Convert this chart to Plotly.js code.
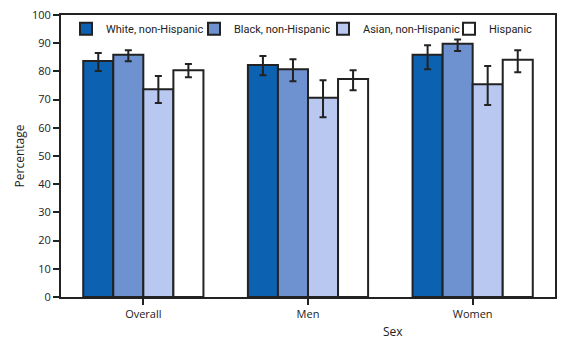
<!DOCTYPE html>
<html>
<head>
<meta charset="utf-8">
<script src="https://cdn.plot.ly/plotly-3.0.1.min.js"></script>
<style>body{margin:0;padding:0;background:#fff;}#chart{width:568px;height:347px;}</style>
</head>
<body>
<div id="chart"></div>
<script>
const categories = ["Overall", "Men", "Women"];
const seriesNames = ["White, non-Hispanic", "Black, non-Hispanic", "Asian, non-Hispanic", "Hispanic"];
const whiteVals = [83.7, 82.3, 85.9];
const whiteHigh = [86.5, 85.5, 89.3];
const whiteLow = [80.1, 78.6, 80.8];
const blackVals = [85.9, 80.8, 89.8];
const blackHigh = [87.5, 84.3, 91.3];
const blackLow = [83.6, 76.5, 87.2];
const asianVals = [73.7, 70.7, 75.4];
const asianHigh = [78.4, 76.9, 81.9];
const asianLow = [68.8, 63.7, 68.1];
const hispVals = [80.4, 77.3, 84.1];
const hispHigh = [82.6, 80.4, 87.5];
const hispLow = [77.9, 73.3, 79.7];
const yTicks = [0, 10, 20, 30, 40, 50, 60, 70, 80, 90, 100];

const colors = ["#0c62b0", "#6e91d0", "#b8c8f0", "#ffffff"];
const legendIds = ["legend", "legend2", "legend3", "legend4"];
const series = [
  [whiteVals, whiteHigh, whiteLow],
  [blackVals, blackHigh, blackLow],
  [asianVals, asianHigh, asianLow],
  [hispVals, hispHigh, hispLow]
];
const traces = series.map((s, i) => ({
  type: "bar",
  name: seriesNames[i],
  legend: legendIds[i],
  x: categories,
  y: s[0],
  marker: {color: colors[i], line: {color: "#222222", width: 2}},
  error_y: {
    type: "data", symmetric: false,
    array: s[1].map((v, k) => v - s[0][k]),
    arrayminus: s[0].map((v, k) => v - s[2][k]),
    color: "#222222", thickness: 2, width: 3.5
  },
  hoverinfo: "none"
}));

const plotL = 61, plotW = 494;
const symLeft = [80, 208, 337, 463];
const legendBase = {orientation: "h", xanchor: "left", y: 1.003, yanchor: "top",
  font: {family: "Roboto, Open Sans, sans-serif", size: 11, color: "#222222"}, bgcolor: "rgba(0,0,0,0)"};

const layout = {
  width: 568, height: 347,
  margin: {l: 61, r: 13, t: 15, b: 50},
  paper_bgcolor: "#ffffff", plot_bgcolor: "#ffffff",
  font: {family: "Open Sans, DejaVu Sans, sans-serif", size: 11, color: "#222222"},
  barmode: "group", bargap: 0.27, bargroupgap: 0,
  showlegend: true,
  xaxis: {
    type: "category", range: [-0.5, 2.5],
    showline: true, linecolor: "#222222", linewidth: 2, mirror: true,
    ticks: "outside", ticklen: 6, tickwidth: 2, tickcolor: "#222222",
    showgrid: false, zeroline: false
  },
  yaxis: {
    range: [0, 100], tickvals: yTicks, ticktext: yTicks.map(String),
    showline: true, linecolor: "#222222", linewidth: 2, mirror: true,
    ticks: "outside", ticklen: 6, tickwidth: 2, tickcolor: "#222222",
    showgrid: false, zeroline: false,
    title: {text: "Percentage", font: {size: 12, color: "#222222"}, standoff: 5}
  },
  annotations: [{
    text: "Sex", xref: "paper", yref: "paper", x: (393 - plotL) / plotW, y: -0.121,
    xanchor: "center", yanchor: "middle", showarrow: false,
    font: {size: 12, color: "#222222"}
  }]
};
legendIds.forEach((id, i) => {
  layout[id] = Object.assign({}, legendBase, {x: (symLeft[i] - 14 - plotL) / plotW});
});
Plotly.newPlot("chart", traces, layout, {staticPlot: true, displayModeBar: false});
</script>
</body>
</html>
